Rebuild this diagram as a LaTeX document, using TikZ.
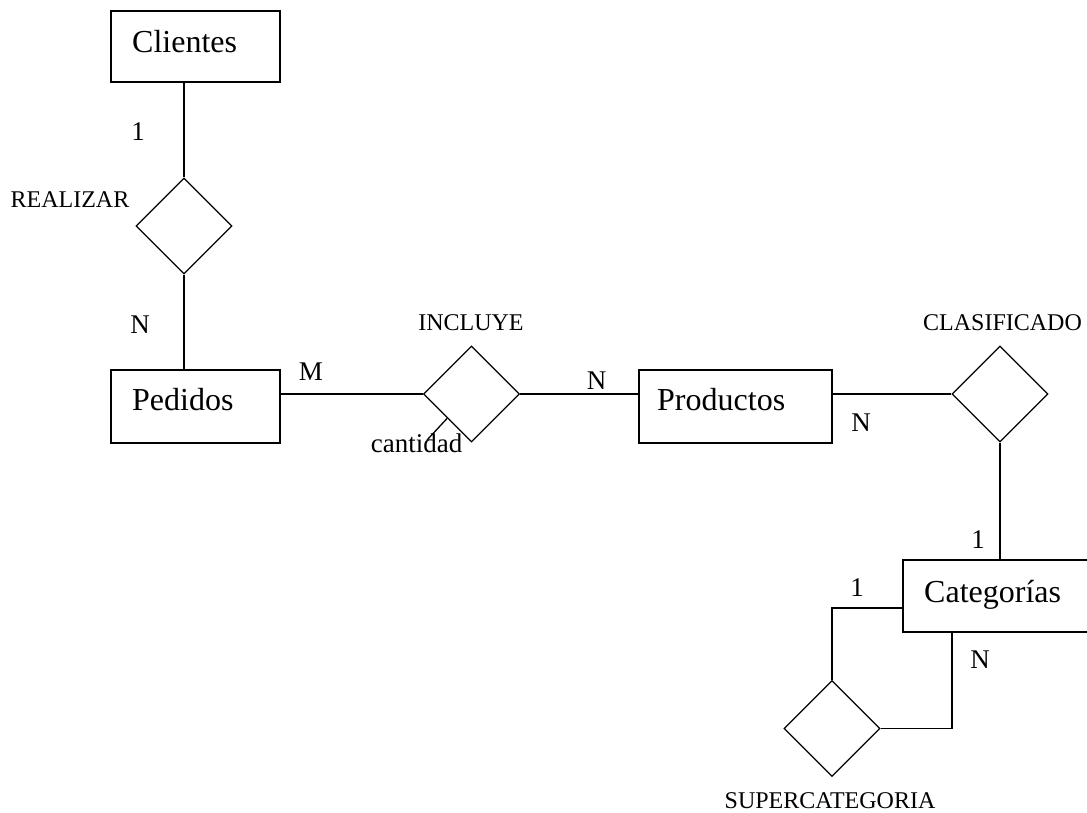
\documentclass[tikz,border=0pt]{standalone}
\usepackage{fontspec}
\setmainfont{Liberation Serif}
\usetikzlibrary{shapes.geometric,calc}
\begin{document}
\begin{tikzpicture}[x=1pt,y=-1pt,
  ent/.style={draw,line width=1.3pt,inner sep=0pt},
  rel/.style={draw,diamond,line width=1.3pt,inner sep=0pt,minimum width=96pt,minimum height=96pt},
  entname/.style={anchor=base west,inner sep=0pt,font=\fontsize{32}{38}\selectfont},
  card/.style={anchor=base,inner sep=0pt,font=\fontsize{27}{32}\selectfont},
  relname/.style={anchor=base,inner sep=0pt,font=\fontsize{24}{29}\selectfont},
  conn/.style={line width=1.3pt}]
\path[use as bounding box] (0,0) rectangle (1087,812);
\clip (0,0) rectangle (1087,812);
% entities
\node[ent,minimum width=169pt,minimum height=71pt] (clientes) at (195.5,46.5) {};
\node[ent,minimum width=169pt,minimum height=73pt] (pedidos) at (195.5,406.5) {};
\node[ent,minimum width=193pt,minimum height=73pt] (productos) at (735.5,406.5) {};
\node[ent,minimum width=197pt,minimum height=72pt] (categorias) at (1001.5,596) {};
\node[entname] (tclientes) at (132,52) {Clientes};
\node[entname] (tpedidos) at (132,410) {Pedidos};
\node[entname] (tproductos) at (657,410) {Productos};
\node[entname] (tcategorias) at (924,602) {Categorías};
% relationships
\node[rel] (rea) at (184,226) {};
\node[rel] (inc) at (471.5,394) {};
\node[rel] (cla) at (1000,394) {};
\node[rel] (sup) at (832,728.5) {};
\node[relname] (lrea) at (70,207) {REALIZAR};
\node[relname] (linc) at (471,330) {INCLUYE};
\node[relname] (lcla) at (1002.5,330) {CLASIFICADO};
\node[relname] (lsup) at (830,808) {SUPERCATEGORIA};
% cardinalities
\node[card] (k1) at (138,140) {1};
\node[card] (k2) at (140,333) {N};
\node[card] (k3) at (311,380) {M};
\node[card] (k4) at (596.5,389) {N};
\node[card] (k5) at (861,431) {N};
\node[card] (k6) at (978,548) {1};
\node[card] (k7) at (857,596) {1};
\node[card] (k8) at (980,668) {N};
% attribute
\node[card] (cantidad) at (416.5,452) {cantidad};
\coordinate (cantend) at (427,440);
% connectors
\draw[conn] (rea.north) -- (rea.north |- clientes.south);
\draw[conn] (rea.south) -- (rea.south |- pedidos.north);
\draw[conn] (inc.west) -- (inc.west -| pedidos.east);
\draw[conn] (inc.east) -- (inc.east -| productos.west);
\draw[conn] (cla.west) -- (cla.west -| productos.east);
\draw[conn] (cla.south) -- (cla.south |- categorias.north);
\coordinate (catl) at ($(categorias.west)+(0,12)$);
\coordinate (catb) at (952,0 |- categorias.south);
\draw[conn] (sup.north) |- (catl);
\draw[conn] (sup.east) -| (catb);
\draw[conn] ($(inc.west)!0.5!(inc.south)$) -- (cantend);
\end{tikzpicture}
\end{document}
